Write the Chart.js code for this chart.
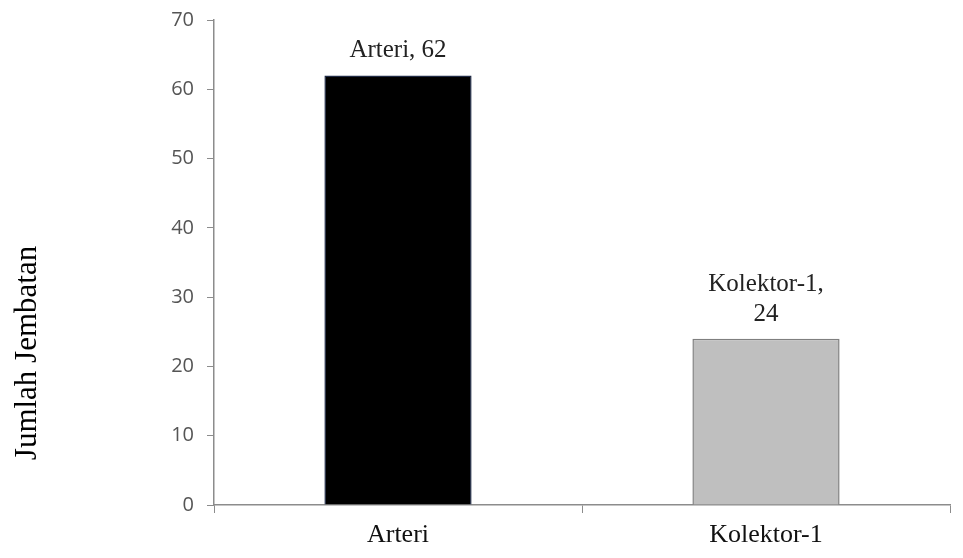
<!DOCTYPE html>
<html>
<head>
<meta charset="utf-8">
<script src="https://cdn.jsdelivr.net/npm/chart.js@4/dist/chart.umd.min.js"></script>
<style>
  html, body { margin: 0; padding: 0; background: #fff; }
  #wrap { width: 963px; height: 558px; position: relative; }
</style>
</head>
<body>
<div id="wrap"><canvas id="chart"></canvas></div>
<script>
// data
const categories = ['Arteri', 'Kolektor-1'];
const jumlah = [62, 24];
const pointLabels = [['Arteri, 62'], ['Kolektor-1,', '24']];
const yTicks = [0, 10, 20, 30, 40, 50, 60, 70];

const barFill = ['#000000', '#bfbfbf'];
const barEdge = ['#1f2a44', '#7f7f7f'];

const serif = '"Liberation Serif", "Times New Roman", serif';

// value labels above each bar
const barLabels = {
    id: 'barLabels',
    afterDatasetsDraw(chart) {
        const ctx = chart.ctx;
        const meta = chart.getDatasetMeta(0);
        ctx.save();
        ctx.font = '25px ' + serif;
        ctx.fillStyle = '#222';
        ctx.textAlign = 'center';
        ctx.textBaseline = 'alphabetic';
        meta.data.forEach((bar, i) => {
            const lines = pointLabels[i];
            let y = bar.y - 18 - (lines.length - 1) * 30;
            lines.forEach(line => {
                ctx.fillText(line, bar.x, y);
                y += 30;
            });
        });
        ctx.restore();
    }
};

// rotated axis title, sits lower than the plot centre in the original
const yTitle = {
    id: 'yTitle',
    afterDraw(chart) {
        const ctx = chart.ctx;
        ctx.save();
        ctx.translate(36, 353);
        ctx.rotate(-Math.PI / 2);
        ctx.font = '31px ' + serif;
        ctx.fillStyle = '#000';
        ctx.textAlign = 'center';
        ctx.textBaseline = 'alphabetic';
        ctx.fillText('Jumlah Jembatan', 0, 0);
        ctx.restore();
    }
};

new Chart(document.getElementById('chart'), {
    type: 'bar',
    data: {
        labels: categories,
        datasets: [{
            data: jumlah,
            backgroundColor: barFill,
            borderColor: barEdge,
            borderWidth: 1.5,
            categoryPercentage: 1,
            barPercentage: 0.4
        }]
    },
    options: {
        responsive: true,
        maintainAspectRatio: false,
        animation: false,
        layout: { padding: { top: 20, right: 13, left: 0, bottom: 0 } },
        plugins: { legend: { display: false }, tooltip: { enabled: false } },
        scales: {
            x: {
                offset: true,
                grid: {
                    offset: true,
                    drawOnChartArea: false,
                    drawTicks: true,
                    tickLength: 8,
                    color: '#8c8c8c'
                },
                border: { color: '#8c8c8c', width: 1.5 },
                ticks: {
                    color: '#111',
                    padding: 7,
                    font: { family: serif, size: 26 }
                },
                afterFit(scale) { scale.height = 53; }
            },
            y: {
                min: 0,
                max: 70,
                afterBuildTicks(scale) { scale.ticks = yTicks.map(v => ({ value: v })); },
                grid: {
                    drawOnChartArea: false,
                    drawTicks: true,
                    tickLength: 7,
                    color: '#8c8c8c'
                },
                border: { color: '#8c8c8c', width: 1.5 },
                ticks: {
                    color: '#555',
                    padding: 13,
                    font: { family: '"Open Sans", "DejaVu Sans", sans-serif', size: 20 }
                },
                afterFit(scale) {
                    scale.width = 214;
                    scale.paddingTop = 0;
                    scale.paddingBottom = 0;
                }
            }
        }
    },
    plugins: [barLabels, yTitle]
});
</script>
</body>
</html>
